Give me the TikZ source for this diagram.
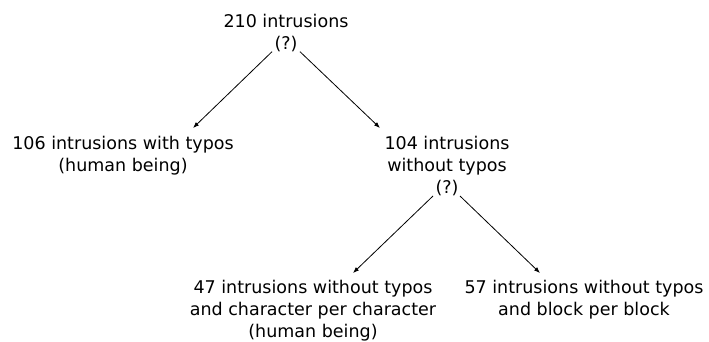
\documentclass[tikz,border=0pt]{standalone}
\usepackage{fontspec}
\setmainfont{DejaVu Sans}
\usetikzlibrary{arrows.meta,calc}
\begin{document}
\begin{tikzpicture}[x=1pt,y=-1pt,
  lbl/.style={align=center,inner sep=0pt,anchor=north,font=\fontsize{17.5}{22}\selectfont},
  arr/.style={-{Latex[length=6pt,width=4.5pt]},line width=0.8pt}]
\useasboundingbox (0,0) rectangle (709,342);
\node[lbl] (root) at (286,13.7) {210 intrusions\\(?)};
\node[lbl] (left) at (123,136) {106 intrusions with typos\\(human being)};
\node[lbl] (right) at (447,136) {104 intrusions\\without typos\\(?)};
\node[lbl] (bl) at (313,280) {47 intrusions without typos\\and character per character\\(human being)};
\node[lbl] (br) at (584,280) {57 intrusions without typos\\and block per block};
\draw[arr] ($(root.south)+(-14,0)$) -- ($(left.north)+(70,-8)$);
\draw[arr] ($(root.south)+(14,0)$) -- ($(right.north)+(-67,-8)$);
\draw[arr] ($(right.south)+(-14,0)$) -- ($(bl.north)+(40,-7)$);
\draw[arr] ($(right.south)+(13,0)$) -- ($(br.north)+(-44,-7)$);
\end{tikzpicture}
\end{document}
